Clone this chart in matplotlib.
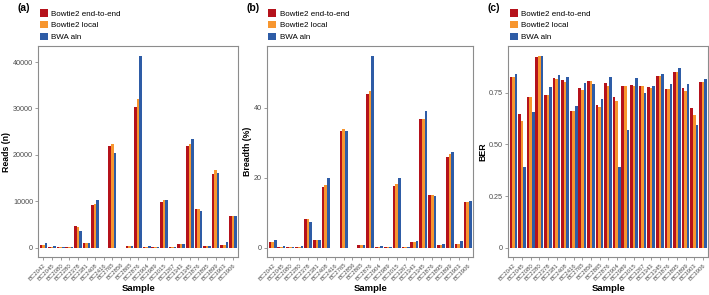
import matplotlib
matplotlib.use("Agg")
import matplotlib.pyplot as plt
import numpy as np

samples = ["BC2042", "BC2045", "BC2080", "BC2280", "BC2378", "BC2381", "BC2408",
           "BC2416", "BC2765", "BC2856", "BC2865", "BC2876", "BC2904", "BC2989",
           "BC3015", "BC3267", "BC3343", "BC3345", "BC3876", "BC3895", "BC3899",
           "BC3903", "BC3906"]
methods = ["Bowtie2 end-to-end", "Bowtie2 local", "BWA aln"]
colors = ["#B5121B", "#F7962F", "#2E5CA6"]

reads_e2e = [650, 150, 100, 100, 4600, 950, 9200, 30, 22000, 30, 400, 30300, 150, 100,
             9800, 100, 700, 21900, 8400, 300, 15900, 650, 6900]
reads_local = [650, 150, 100, 100, 4550, 950, 9400, 30, 22300, 30, 400, 32000, 150, 100,
               10200, 100, 700, 22300, 8400, 300, 16700, 650, 6900]
reads_bwa = [930, 350, 100, 150, 3700, 950, 10200, 30, 20300, 30, 400, 41380, 450, 150,
             10200, 150, 900, 23450, 7800, 350, 16100, 1300, 6800]

breadth_e2e = [1.6, 0.3, 0.25, 0.3, 8.1, 2.2, 17.4, 0.05, 33.4, 0.05, 0.9, 43.8, 0.3, 0.2,
               17.6, 0.2, 1.5, 36.7, 15.2, 0.9, 26.0, 1.1, 13.1]
breadth_local = [1.6, 0.3, 0.25, 0.3, 8.1, 2.2, 17.8, 0.05, 33.8, 0.05, 0.9, 44.8, 0.3, 0.2,
                 18.1, 0.2, 1.5, 36.9, 15.2, 0.9, 26.7, 1.1, 13.1]
breadth_bwa = [2.3, 0.35, 0.3, 0.45, 7.3, 2.3, 20.0, 0.05, 33.3, 0.05, 0.9, 54.9, 0.5, 0.3,
               20.0, 0.3, 1.9, 39.1, 14.9, 1.0, 27.4, 2.0, 13.4]

ber_e2e = [0.825, 0.646, 0.732, 0.924, 0.739, 0.820, 0.812, 0.664, 0.771, 0.807, 0.690,
           0.797, 0.729, 0.781, 0.789, 0.781, 0.778, 0.833, 0.770, 0.852, 0.773, 0.674, 0.800]
ber_local = [0.825, 0.614, 0.728, 0.927, 0.739, 0.817, 0.804, 0.664, 0.765, 0.809, 0.680,
             0.784, 0.708, 0.781, 0.781, 0.781, 0.773, 0.833, 0.770, 0.852, 0.761, 0.644, 0.800]
ber_bwa = [0.840, 0.390, 0.658, 0.930, 0.778, 0.836, 0.827, 0.687, 0.797, 0.793, 0.719,
           0.825, 0.390, 0.570, 0.822, 0.749, 0.784, 0.843, 0.792, 0.869, 0.791, 0.594, 0.818]

panels = [
    ("(a)", "Reads (n)", [reads_e2e, reads_local, reads_bwa], [0, 10000, 20000, 30000, 40000],
     ["0", "10000", "20000", "30000", "40000"]),
    ("(b)", "Breadth (%)", [breadth_e2e, breadth_local, breadth_bwa], [0, 20, 40],
     ["0", "20", "40"]),
    ("(c)", "BER", [ber_e2e, ber_local, ber_bwa], [0, 0.25, 0.5, 0.75],
     ["0", "0.25", "0.50", "0.75"]),
]

W, H = 709, 295
fig = plt.figure(figsize=(W / 100, H / 100), dpi=100)
plt.rcParams['font.family'] = ['Liberation Sans', 'DejaVu Sans']

boxes = [(38.3, 238.0), (267.3, 473.0), (508.3, 708.0)]
top_px, bot_px = 46.0, 257.3
frame_col = "#8C8C8C"
txt_col = "#4D4D4D"

n = len(samples)
x = np.arange(n)
bw = 0.3
for (lbl, ylab, series, yt, ytl), (l, r) in zip(panels, boxes):
    ax = fig.add_axes([l / W, (H - bot_px) / H, (r - l) / W, (bot_px - top_px) / H])
    handles = []
    for k, (vals, c, m) in enumerate(zip(series, colors, methods)):
        h = ax.bar(x + (k - 1) * bw, vals, width=bw, color=c, label=m, linewidth=0)
        handles.append(h)
    vmax = max(max(s) for s in series)
    ax.set_ylim(-0.05 * vmax, 1.05 * vmax)
    ax.set_xlim(-0.6, n - 1 + 0.6)
    ax.set_yticks(yt)
    ax.set_yticklabels(ytl, fontsize=5.2, color=txt_col)
    ax.set_xticks(x)
    ax.set_xticklabels(samples, rotation=45, ha="right", rotation_mode="anchor",
                       fontsize=4.3, color=txt_col)
    ax.tick_params(axis="both", length=2.2, width=0.6, color=frame_col, pad=1.5)
    for sp in ax.spines.values():
        sp.set_color(frame_col)
        sp.set_linewidth(0.8)
    ax.set_ylabel(ylab, fontsize=6.3, fontweight="bold", labelpad=1.5)
    ax.set_xlabel("Sample", fontsize=6.8, fontweight="bold", labelpad=2)
    leg = ax.legend(handles=handles, loc="lower left", bbox_to_anchor=(-0.018, 1.0),
                    frameon=False, fontsize=5.8, handlelength=1.0, handleheight=1.1,
                    labelspacing=0.4, handletextpad=0.4, borderaxespad=0.5,
                    borderpad=0.1)
    fig.text((l - 21) / W, 1 - 3 / H, lbl, fontsize=7.5, fontweight="bold", va="top", ha="left")

fig.savefig("out.png", dpi=100)
